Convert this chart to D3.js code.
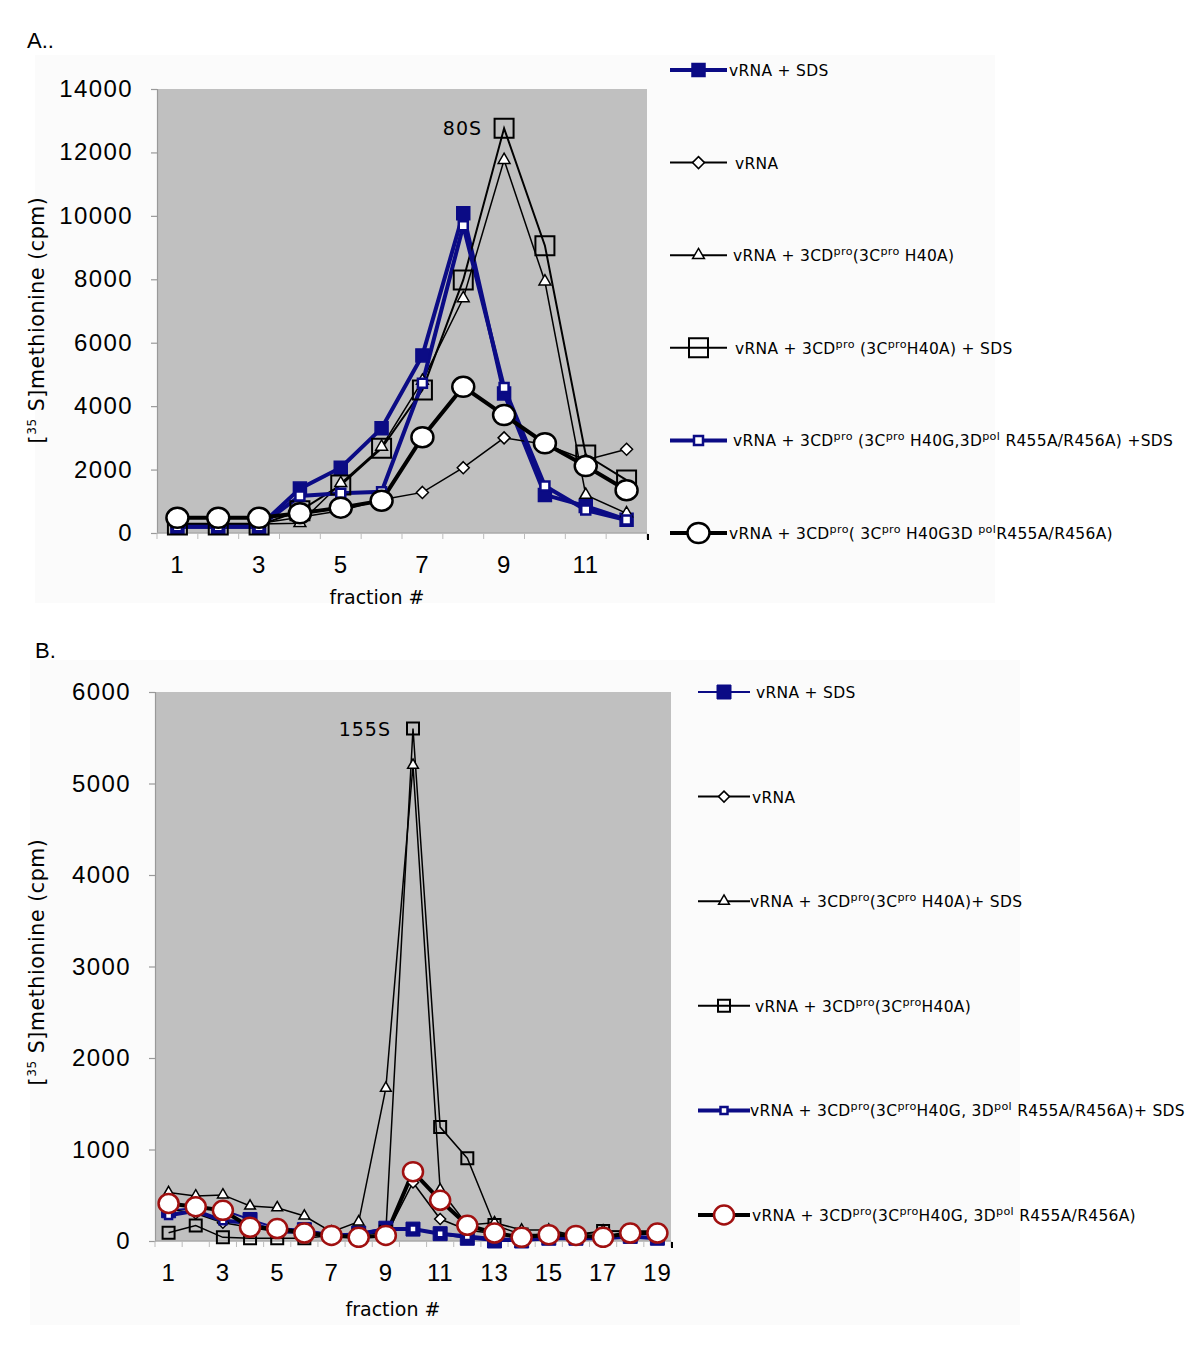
<!DOCTYPE html>
<html>
<head>
<meta charset="utf-8">
<script src="https://cdn.jsdelivr.net/npm/d3@7"></script>
<style>
  html, body { margin: 0; padding: 0; background: #ffffff; }
  svg { display: block; }
</style>
</head>
<body>
<svg id="chart" width="1200" height="1371"></svg>
<script>
// ---------------- DATA ----------------
const fractionsA = [1,2,3,4,5,6,7,8,9,10,11,12];
const tickLabelsA = [1,3,5,7,9,11];
const yTicksA = [0,2000,4000,6000,8000,10000,12000,14000];

const A_vRNA_SDS      = [200,200,200,1400,2060,3300,5600,10080,4400,1200,850,420];
const A_vRNA          = [300,300,300,500,700,1050,1280,2060,3000,2800,2300,2640];
const A_H40A          = [280,280,280,310,1570,2720,4800,7400,11760,7930,1200,620];
const A_H40A_SDS      = [250,250,250,700,1510,2670,4510,7980,12760,9060,2460,1670];
const A_H40G_SDS      = [200,200,200,1170,1250,1300,4720,9690,4590,1480,725,410];
const A_H40G          = [480,480,480,620,800,1020,3020,4610,3720,2830,2110,1350];

const labelsA = [
  "vRNA + SDS",
  "vRNA",
  "vRNA + 3CD^pro^(3C^pro^ H40A)",
  "vRNA + 3CD^pro^ (3C^pro^H40A) + SDS",
  "vRNA + 3CD^pro^ (3C^pro^  H40G,3D^pol^ R455A/R456A) +SDS",
  "vRNA + 3CD^pro^( 3C^pro^ H40G3D ^pol^R455A/R456A)"
];

const fractionsB = [1,2,3,4,5,6,7,8,9,10,11,12,13,14,15,16,17,18,19];
const tickLabelsB = [1,3,5,7,9,11,13,15,17,19];
const yTicksB = [0,1000,2000,3000,4000,5000,6000];

const B_vRNA_SDS      = [330,360,340,235,140,124,60,87,140,130,80,30,0,0,30,30,30,50,30];
const B_vRNA          = [350,300,200,150,100,80,60,50,60,640,240,120,80,60,60,60,60,80,80];
const B_H40A_SDS      = [530,493,504,383,364,273,100,210,1670,5200,560,175,200,120,120,60,110,110,110];
const B_H40A          = [90,170,40,30,30,30,60,60,100,5600,1245,905,175,70,70,70,110,100,100];
const B_H40G_SDS      = [280,330,220,200,100,110,60,70,130,130,80,50,20,10,30,30,30,50,30];
const B_H40G          = [410,375,335,150,136,87,61,40,61,758,445,172,87,40,69,61,40,87,87];

const labelsB = [
  "vRNA + SDS",
  "vRNA",
  "vRNA + 3CD^pro^(3C^pro^ H40A)+ SDS",
  "vRNA + 3CD^pro^(3C^pro^H40A)",
  "vRNA + 3CD^pro^(3C^pro^H40G, 3D^pol^ R455A/R456A)+ SDS",
  "vRNA + 3CD^pro^(3C^pro^H40G, 3D^pol^ R455A/R456A)"
];

// ---------------- STYLES ----------------
const NAVY = "#0b0b85";
const DARKRED = "#a01010";

const stylesA = [
  {values: A_vRNA_SDS, line: NAVY, lw: 4,   marker: "square",  ms: 13, fill: NAVY,  stroke: NAVY,  sw: 1.5},
  {values: A_vRNA,     line: "#000", lw: 1.5, marker: "diamond", ms: 6,  fill: "#fff", stroke: "#000", sw: 1.5},
  {values: A_H40A,     line: "#000", lw: 1.5, marker: "triangle",ms: 11, fill: "#fff", stroke: "#000", sw: 1.5},
  {values: A_H40A_SDS, line: "#000", lw: 2,   marker: "square",  ms: 19, fill: "none", stroke: "#000", sw: 2},
  {values: A_H40G_SDS, line: NAVY, lw: 4,   marker: "square",  ms: 9,  fill: "#fff", stroke: NAVY,  sw: 2.5},
  {values: A_H40G,     line: "#000", lw: 4,   marker: "ellipse", ms: 11, ry: 10, fill: "#fff", stroke: "#000", sw: 2.5}
];
const stylesB = [
  {values: B_vRNA_SDS, line: NAVY, lw: 2,   marker: "square",  ms: 14, fill: NAVY,  stroke: NAVY,  sw: 1},
  {values: B_vRNA,     line: "#000", lw: 1.5, marker: "diamond", ms: 5.5, fill: "#fff", stroke: "#000", sw: 1.5},
  {values: B_H40A_SDS, line: "#000", lw: 1.5, marker: "triangle",ms: 10, fill: "#fff", stroke: "#000", sw: 1.5},
  {values: B_H40A,     line: "#000", lw: 1.5, marker: "square",  ms: 12, fill: "none", stroke: "#000", sw: 2},
  {values: B_H40G_SDS, line: NAVY, lw: 4,   marker: "square",  ms: 7,  fill: "#fff", stroke: NAVY,  sw: 2.5},
  {values: B_H40G,     line: "#000", lw: 4,   marker: "ellipse", ms: 10, ry: 9.5, fill: "#fff", stroke: DARKRED, sw: 2.5}
];

const svg = d3.select("#chart");

function drawMarker(g, st, x, y) {
  if (st.marker === "ellipse") {
    g.append("ellipse").attr("cx", x).attr("cy", y).attr("rx", st.ms).attr("ry", st.ry)
      .attr("fill", st.fill).attr("stroke", st.stroke).attr("stroke-width", st.sw);
    return;
  }
  let d;
  if (st.marker === "diamond") {
    const r = st.ms;
    d = `M0,${-r}L${r},0L0,${r}L${-r},0Z`;
  } else if (st.marker === "square") {
    d = d3.symbol().type(d3.symbolSquare).size(st.ms * st.ms)();
  } else {
    d = d3.symbol().type(d3.symbolTriangle).size(st.ms * st.ms * 0.5)();
  }
  g.append("path").attr("d", d)
    .attr("transform", `translate(${x},${y})`)
    .attr("fill", st.fill).attr("stroke", st.stroke).attr("stroke-width", st.sw);
}

function richText(sel, label, size) {
  const parts = label.split("^");
  let raised = false;
  parts.forEach((p, i) => {
    const sup = i % 2 === 1;
    if (!p) return;
    let dy = 0;
    if (sup && !raised) { dy = -6; raised = true; }
    else if (!sup && raised) { dy = 6; raised = false; }
    sel.append("tspan").text(p)
      .attr("font-size", sup ? size * 0.72 : size)
      .attr("dy", dy);
  });
}

function drawPanel(cfg) {
  const g = svg.append("g");
  g.append("rect").attr("x", cfg.bg[0]).attr("y", cfg.bg[1]).attr("width", cfg.bg[2]).attr("height", cfg.bg[3])
    .attr("fill", "#fbfbfb");

  const x = d3.scaleBand().domain(cfg.cats).range([cfg.x0, cfg.x1]).padding(0);
  const y = d3.scaleLinear().domain([0, cfg.max]).range([cfg.yBot, cfg.yTop]);
  const cx = c => x(c) + x.bandwidth() / 2;

  g.append("rect").attr("x", cfg.x0).attr("y", cfg.yTop).attr("width", cfg.x1 - cfg.x0)
    .attr("height", cfg.yBot - cfg.yTop).attr("fill", "#c0c0c0");

  // y axis
  const yAxis = d3.axisLeft(y).tickValues(cfg.yTicks).tickSize(6).tickFormat("");
  const ya = g.append("g").attr("transform", `translate(${cfg.x0},0)`).call(yAxis);
  ya.selectAll("path, line").attr("stroke", "#999").attr("stroke-width", 1.2);
  g.selectAll(null).data(cfg.yTicks).enter().append("text")
    .attr("x", cfg.x0 - 24).attr("y", d => y(d) + 8)
    .attr("text-anchor", "end").attr("font-family", "Liberation Sans, Arial, sans-serif")
    .attr("font-size", 24).attr("letter-spacing", 1.4).attr("fill", "#000").text(d => d);

  // x axis
  const bounds = cfg.cats.map(c => x(c)).concat([cfg.x1]);
  g.append("line").attr("x1", cfg.x0).attr("x2", cfg.x1).attr("y1", cfg.yBot).attr("y2", cfg.yBot)
    .attr("stroke", "#aaa").attr("stroke-width", 1.5);
  g.selectAll(null).data(bounds).enter().append("line")
    .attr("x1", d => d).attr("x2", d => d).attr("y1", cfg.yBot).attr("y2", cfg.yBot + 6)
    .attr("stroke", "#bbb").attr("stroke-width", 1);
  g.append("line").attr("x1", cfg.x1 + 1).attr("x2", cfg.x1 + 1).attr("y1", cfg.yBot + 1).attr("y2", cfg.yBot + 7)
    .attr("stroke", "#000").attr("stroke-width", 2);
  g.selectAll(null).data(cfg.xTickLabels).enter().append("text")
    .attr("x", d => cx(d)).attr("y", cfg.yBot + 40)
    .attr("text-anchor", "middle").attr("font-family", "Liberation Sans, Arial, sans-serif")
    .attr("font-size", 24).attr("letter-spacing", 0.8).attr("fill", "#000").text(d => d);

  // axis titles
  g.append("text").attr("x", cfg.xTitle[0]).attr("y", cfg.xTitle[1]).attr("text-anchor", "middle")
    .attr("font-family", "DejaVu Sans, sans-serif").attr("font-size", 19).text("fraction #");
  const yt = g.append("text").attr("transform", `translate(${cfg.yTitle[0]},${cfg.yTitle[1]}) rotate(-90)`)
    .attr("text-anchor", "middle").attr("font-family", "DejaVu Sans, sans-serif").attr("font-size", 20.5)
    .attr("letter-spacing", 0.6);
  yt.append("tspan").text("[");
  yt.append("tspan").text("35").attr("font-size", 12).attr("dy", -8);
  yt.append("tspan").text(" S]methionine (cpm)").attr("dy", 8);

  // panel label
  g.append("text").attr("x", cfg.panelLabel[0]).attr("y", cfg.panelLabel[1])
    .attr("font-family", "Liberation Sans, Arial, sans-serif").attr("font-size", 22).text(cfg.panelText);

  // series
  const line = d3.line().x((d, i) => cx(cfg.cats[i])).y(d => y(d));
  cfg.styles.forEach(st => {
    g.append("path").datum(st.values).attr("d", line).attr("fill", "none")
      .attr("stroke", st.line).attr("stroke-width", st.lw).attr("stroke-linejoin", "miter");
  });
  cfg.styles.forEach(st => {
    const mg = g.append("g");
    st.values.forEach((v, i) => drawMarker(mg, st, cx(cfg.cats[i]), y(v)));
  });

  // peak annotation
  const pk = cfg.annot;
  g.append("text").attr("x", cx(pk.cat) - pk.dx).attr("y", y(pk.value) + 7)
    .attr("text-anchor", "end").attr("font-family", "DejaVu Sans, sans-serif")
    .attr("font-size", 19).attr("letter-spacing", 1).text(pk.text);

  // legend
  cfg.labels.forEach((lab, i) => {
    const st = cfg.styles[i];
    const ly = cfg.legY0 + i * cfg.legStep;
    const lg = g.append("g");
    lg.append("line").attr("x1", cfg.legX[0]).attr("x2", cfg.legX[1]).attr("y1", ly).attr("y2", ly)
      .attr("stroke", st.line).attr("stroke-width", st.lw === 4 ? 4 : (i === 0 ? st.lw : 2));
    drawMarker(lg, st, (cfg.legX[0] + cfg.legX[1]) / 2, ly);
    const t = lg.append("text").attr("x", cfg.legX[1] + cfg.legTextDx[i]).attr("y", ly + 6)
      .attr("font-family", "DejaVu Sans, sans-serif").attr("font-size", 15.5).attr("fill", "#000")
      .attr("letter-spacing", 0.3);
    richText(t, lab, 15.5);
  });
}

drawPanel({
  bg: [35, 55, 960, 548],
  cats: fractionsA, xTickLabels: tickLabelsA, yTicks: yTicksA, max: 14000,
  x0: 157, x1: 647, yTop: 89, yBot: 533,
  xTitle: [377, 604], yTitle: [44, 320],
  panelLabel: [27, 48], panelText: "A..",
  styles: stylesA, labels: labelsA,
  annot: {cat: 9, value: 12760, dx: 22, text: "80S"},
  legX: [670, 727], legY0: 70, legStep: 92.6, legTextDx: [2, 8, 6, 8, 6, 2]
});

drawPanel({
  bg: [30, 660, 990, 665],
  cats: fractionsB, xTickLabels: tickLabelsB, yTicks: yTicksB, max: 6000,
  x0: 155, x1: 671, yTop: 692, yBot: 1241,
  xTitle: [393, 1316], yTitle: [44, 962],
  panelLabel: [35, 658], panelText: "B.",
  styles: stylesB, labels: labelsB,
  annot: {cat: 10, value: 5600, dx: 22, text: "155S"},
  legX: [698, 750], legY0: 692, legStep: 104.6, legTextDx: [6, 2, 0, 5, 0, 2]
});
</script>
</body>
</html>
